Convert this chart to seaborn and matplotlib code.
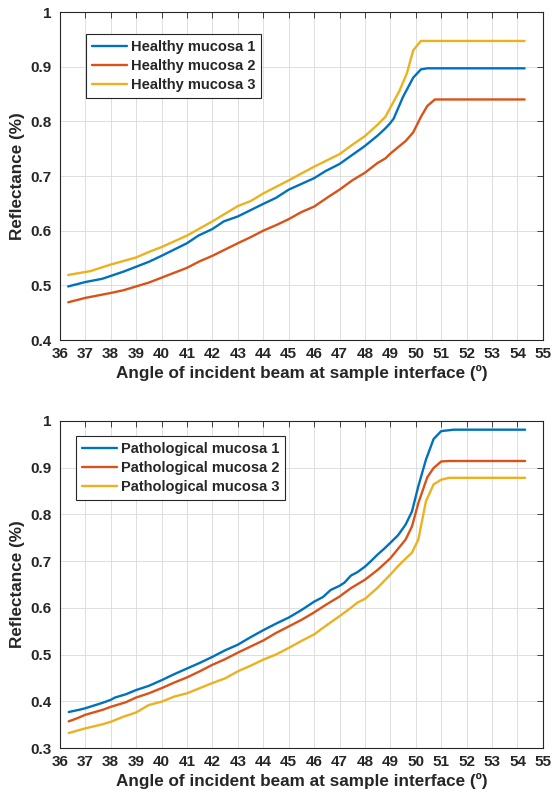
import seaborn as sns
import pandas as pd
import matplotlib.pyplot as plt

# healthy mucosa curves
h1_x = [36.33, 37, 37.67, 38.5, 39, 39.5, 40, 41, 41.45, 42, 42.45, 43, 44, 44.5, 45, 46, 46.45, 47,
        48, 48.5, 48.8, 49, 49.13, 49.5, 49.9, 50.2, 50.45, 54.28]
h1_y = [0.498, 0.506, 0.512, 0.525, 0.534, 0.543, 0.554, 0.577, 0.591, 0.603, 0.617, 0.626, 0.649, 0.66,
        0.675, 0.696, 0.709, 0.722, 0.755, 0.774, 0.787, 0.797, 0.805, 0.845, 0.88, 0.895, 0.897, 0.897]

h2_x = [36.33, 37, 38, 38.5, 39, 39.5, 40, 41, 41.5, 42, 43, 43.5, 44, 44.5, 45, 45.5, 46, 46.6, 47,
        47.5, 48, 48.5, 48.8, 49, 49.6, 49.9, 50.2, 50.45, 50.75, 54.28]
h2_y = [0.469, 0.477, 0.486, 0.491, 0.498, 0.505, 0.514, 0.532, 0.544, 0.554, 0.577, 0.588, 0.6, 0.61,
        0.621, 0.634, 0.644, 0.663, 0.675, 0.692, 0.706, 0.724, 0.732, 0.741, 0.764, 0.78, 0.808, 0.828,
        0.84, 0.84]

h3_x = [36.33, 37.2, 38, 39, 39.5, 40, 41, 42, 43, 43.5, 44, 45, 46, 47, 47.5, 48, 48.5, 48.8, 49.35,
        49.65, 49.9, 50.2, 54.28]
h3_y = [0.519, 0.526, 0.538, 0.551, 0.561, 0.57, 0.591, 0.617, 0.645, 0.654, 0.668, 0.692, 0.717, 0.74,
        0.757, 0.773, 0.794, 0.808, 0.855, 0.888, 0.93, 0.947, 0.947]

# pathological mucosa curves
p1_x = [36.35, 36.78, 37, 37.7, 38, 38.17, 38.6, 39, 39.5, 40, 40.5, 41, 41.5, 42, 42.5, 43, 43.5, 44,
        44.5, 45, 45.5, 46, 46.35, 46.65, 47, 47.2, 47.45, 47.7, 48, 48.2, 48.5, 48.75, 49, 49.3, 49.6,
        49.85, 50.1, 50.4, 50.7, 51, 51.5, 54.3]
p1_y = [0.377, 0.382, 0.385, 0.397, 0.403, 0.408, 0.415, 0.424, 0.433, 0.445, 0.458, 0.47, 0.482, 0.495,
        0.509, 0.521, 0.537, 0.552, 0.566, 0.579, 0.595, 0.613, 0.623, 0.638, 0.647, 0.654, 0.669, 0.676,
        0.688, 0.698, 0.714, 0.726, 0.739, 0.755, 0.778, 0.806, 0.86, 0.917, 0.961, 0.978, 0.981, 0.981]

p2_x = [36.35, 36.7, 37, 37.7, 38, 38.6, 39, 39.5, 40, 40.5, 41, 41.5, 42, 42.5, 43, 43.5, 44, 44.5,
        45, 45.5, 46, 46.45, 47, 47.45, 48, 48.5, 49, 49.3, 49.6, 49.85, 50.1, 50.45, 50.7, 51, 51.3, 54.3]
p2_y = [0.357, 0.364, 0.371, 0.382, 0.388, 0.398, 0.408, 0.417, 0.428, 0.44, 0.451, 0.464, 0.478, 0.49,
        0.504, 0.517, 0.53, 0.546, 0.56, 0.574, 0.59, 0.606, 0.624, 0.642, 0.66, 0.681, 0.706, 0.726,
        0.746, 0.774, 0.824, 0.879, 0.899, 0.913, 0.914, 0.914]

p3_x = [36.35, 37, 37.7, 38, 38.5, 39, 39.5, 40, 40.5, 41, 41.5, 42, 42.5, 43, 43.5, 44, 44.5, 45, 45.5,
        46, 46.45, 47, 47.45, 47.7, 48, 48.5, 48.75, 49, 49.3, 49.6, 49.85, 50.1, 50.4, 50.7, 51, 51.3, 54.3]
p3_y = [0.332, 0.342, 0.351, 0.356, 0.367, 0.376, 0.392, 0.399, 0.41, 0.417, 0.428, 0.439, 0.449, 0.464,
        0.476, 0.489, 0.5, 0.514, 0.529, 0.543, 0.561, 0.582, 0.6, 0.611, 0.619, 0.643, 0.657, 0.671,
        0.689, 0.705, 0.718, 0.746, 0.828, 0.864, 0.874, 0.878, 0.878]

healthy_names = ["Healthy mucosa 1", "Healthy mucosa 2", "Healthy mucosa 3"]
patho_names = ["Pathological mucosa 1", "Pathological mucosa 2", "Pathological mucosa 3"]
colors = ["#0072BD", "#D95319", "#EDB120"]


def to_frame(names, xs, ys):
    parts = [pd.DataFrame({"Angle": x, "Reflectance": y, "Sample": n}) for n, x, y in zip(names, xs, ys)]
    return pd.concat(parts, ignore_index=True)


healthy = to_frame(healthy_names, [h1_x, h2_x, h3_x], [h1_y, h2_y, h3_y])
patho = to_frame(patho_names, [p1_x, p2_x, p3_x], [p1_y, p2_y, p3_y])

sns.set_style("whitegrid")
plt.rcParams["font.family"] = ["Liberation Sans", "DejaVu Sans"]
plt.rcParams["font.weight"] = "bold"

fig = plt.figure(figsize=(5.54, 8.0), dpi=100)
ax1 = fig.add_axes([0.108, 0.575, 0.872, 0.41])
ax2 = fig.add_axes([0.108, 0.065, 0.872, 0.409])

panels = [(ax1, healthy, (0.4, 1.0), (0.054, 0.933)),
          (ax2, patho, (0.3, 1.0), (0.033, 0.954))]
for ax, df, ylim, leg_pos in panels:
    sns.lineplot(data=df, x="Angle", y="Reflectance", hue="Sample", palette=colors,
                 linewidth=1.7, ax=ax, sort=False, estimator=None)
    ax.set_xlim(36, 55)
    ax.set_ylim(*ylim)
    ax.set_xticks(range(36, 56))
    ax.yaxis.set_major_formatter(lambda v, p: f"{v:g}")
    ax.grid(True, color="#d9d9d9", linewidth=0.6)
    for s in ax.spines.values():
        s.set_color("#262626")
        s.set_linewidth(0.8)
    ax.tick_params(direction="in", top=True, right=True, length=4, width=0.6,
                   color="#262626", labelsize=11)
    ax.tick_params(axis="x", pad=5)
    ax.tick_params(axis="y", pad=6)
    for lab in ax.get_xticklabels() + ax.get_yticklabels():
        lab.set_fontweight("bold")
    ax.set_xlabel("Angle of incident beam at sample interface (º)", fontsize=12.3, fontweight="bold",
                  labelpad=3)
    ax.set_ylabel("Reflectance (%)", fontsize=12.3, fontweight="bold")
    leg = ax.legend(loc="upper left", bbox_to_anchor=leg_pos, borderaxespad=0, fontsize=10.5,
                    fancybox=False, framealpha=1, edgecolor="#262626", borderpad=0.4,
                    labelspacing=0.35, handlelength=2.4, handletextpad=0.3)
    leg.get_frame().set_linewidth(0.8)
    for t in leg.get_texts():
        t.set_fontweight("bold")

fig.savefig("out.png", dpi=100)
